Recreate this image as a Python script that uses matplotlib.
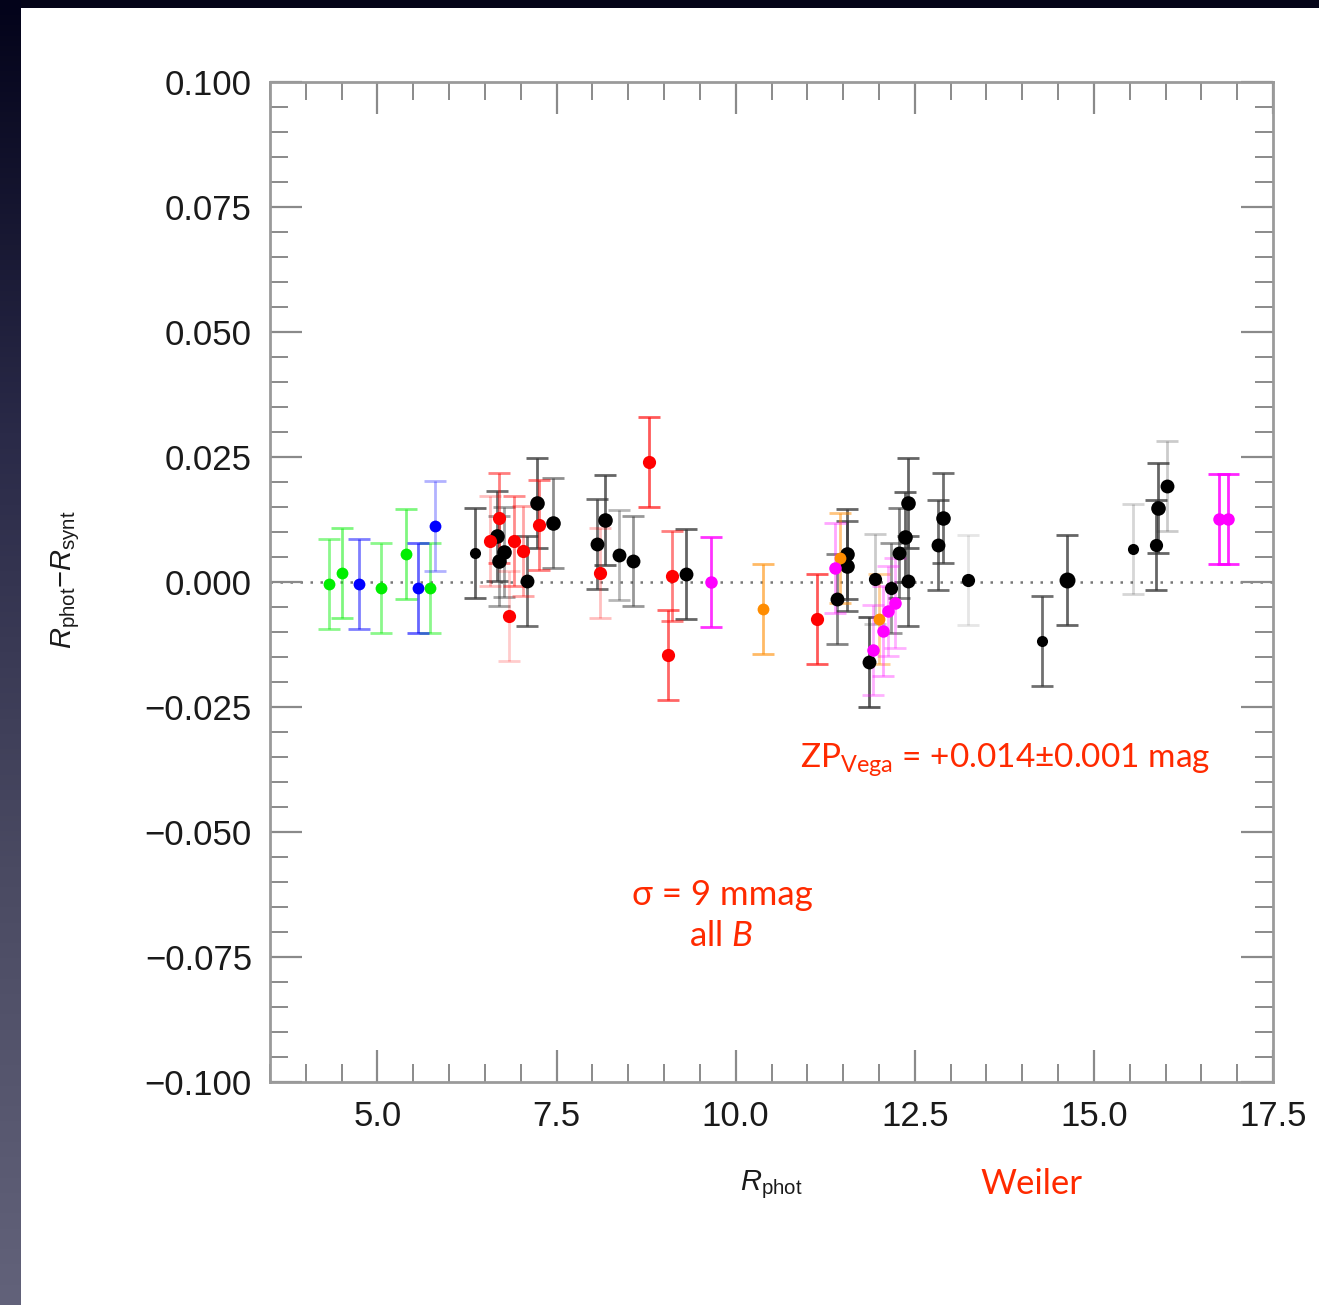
import numpy as np
import matplotlib
matplotlib.use("Agg")
import matplotlib.pyplot as plt
from matplotlib.patches import Rectangle
from matplotlib.colors import LinearSegmentedColormap
from matplotlib.ticker import MultipleLocator, FuncFormatter

plt.rcParams['mathtext.fontset'] = 'custom'
plt.rcParams['mathtext.rm'] = 'Lato'
plt.rcParams['mathtext.it'] = 'Liberation Sans:italic'
plt.rcParams['mathtext.sf'] = 'Liberation Sans'
plt.rcParams['mathtext.bf'] = 'Lato:italic'

# ---------------- data ----------------
green_x = [4.32, 4.51, 5.05, 5.40, 5.73]
green_y = [-0.0004, 0.0018, -0.0011, 0.0056, -0.0011]
green_e = [0.009, 0.009, 0.009, 0.009, 0.009]

blue_x = [4.74, 5.57, 5.81]
blue_y = [-0.0003, -0.0011, 0.0113]
blue_e = [0.009, 0.009, 0.009]

red_x = [6.57, 6.69, 6.84, 6.91, 7.03, 7.25, 8.11, 8.79, 9.11, 9.05, 11.13]
red_y = [0.0083, 0.0129, -0.0067, 0.0083, 0.0063, 0.0114, 0.0018, 0.0241, 0.0013, -0.0146, -0.0073]
red_e = [0.009, 0.009, 0.009, 0.009, 0.009, 0.009, 0.009, 0.009, 0.009, 0.009, 0.009]

orange_x = [10.38, 11.45, 12.00]
orange_y = [-0.0053, 0.0049, -0.0073]
orange_e = [0.009, 0.009, 0.009]

magenta_x = [9.66, 11.38, 11.92, 12.06, 12.12, 12.22, 16.74, 16.87]
magenta_y = [0.0000, 0.0029, -0.0135, -0.0097, -0.0057, -0.0042, 0.0127, 0.0127]
magenta_e = [0.009, 0.009, 0.009, 0.009, 0.009, 0.009, 0.009, 0.009]

black_x = [6.36, 6.67, 6.76, 6.70, 7.09, 7.23, 7.45, 8.07, 8.17, 8.37, 8.56, 9.30,
           11.55, 11.55, 11.41, 11.95, 11.86, 12.17, 12.28, 12.37, 12.40, 12.41,
           12.83, 12.89, 13.24, 14.27, 14.63, 15.54, 15.87, 15.90, 16.02]
black_y = [0.0059, 0.0093, 0.0061, 0.0043, 0.0003, 0.0159, 0.0119, 0.0077, 0.0125, 0.0055, 0.0043, 0.0016,
           0.0056, 0.0033, -0.0034, 0.0006, -0.0159, -0.0011, 0.0058, 0.0091, 0.0159, 0.0003,
           0.0074, 0.0129, 0.0004, -0.0117, 0.0004, 0.0067, 0.0074, 0.0149, 0.0193]
black_e = [0.009] * 31

# ---------------- styles (separate from data) ----------------
green_ealpha = [0.45, 0.5, 0.45, 0.5, 0.45]
blue_ealpha = [0.5, 0.6, 0.3]
red_ealpha = [0.25, 0.5, 0.2, 0.45, 0.35, 0.5, 0.25, 0.65, 0.5, 0.6, 0.65]
orange_ealpha = [0.6, 0.5, 0.4]
magenta_ealpha = [0.8, 0.35, 0.3, 0.35, 0.3, 0.3, 0.85, 0.85]
black_ealpha = [0.75, 0.7, 0.45, 0.45, 0.7, 0.75, 0.55, 0.7, 0.75, 0.35, 0.5, 0.75,
                0.75, 0.7, 0.6, 0.25, 0.8, 0.5, 0.6, 0.75, 0.75, 0.7,
                0.7, 0.7, 0.12, 0.7, 0.75, 0.2, 0.75, 0.75, 0.25]
black_ms = [8, 10.5, 10.5, 10.5, 10, 10.5, 10.5, 10, 10.5, 10, 10, 10,
            10.5, 10.5, 10, 9.5, 10, 9.5, 10, 10.5, 10.5, 10,
            10, 10.5, 9.5, 8, 11.5, 8, 9.5, 10.5, 10]

W, H = 1319, 1305
fig = plt.figure(figsize=(W / 100, H / 100), dpi=100)
fig.patch.set_facecolor('#050518')

# left gradient strip
gax = fig.add_axes([0, 0, 21 / W, 1])
grad = np.linspace(0, 1, 256).reshape(-1, 1)
cm = LinearSegmentedColormap.from_list('g', ['#03031a', '#2a2a48', '#4a4a62', '#62627a'])
gax.imshow(grad, aspect='auto', cmap=cm, extent=[0, 1, 0, 1], origin='upper')
gax.set_axis_off()

# white panel
fig.patches.append(Rectangle((21 / W, 0), 1 - 21 / W, 1 - 8 / H, transform=fig.transFigure,
                             facecolor='white', edgecolor='none', zorder=-5))

ax = fig.add_axes([270 / W, 1 - 1082 / H, (1273 - 270) / W, (1082 - 82) / H])
ax.set_zorder(5)
ax.set_facecolor('none')
ax.set_xlim(3.5, 17.5)
ax.set_ylim(-0.1, 0.1)

ax.axhline(0, color='#777777', ls=(0, (1, 3)), lw=1.8, zorder=1)

def draw(xs, ys, es, color, ealphas, ms, ecolor=None):
    for i, (x, y, e) in enumerate(zip(xs, ys, es)):
        m = ms[i] if isinstance(ms, list) else ms
        ax.errorbar([x], [y], yerr=[e], fmt='none', ecolor=ecolor or color,
                    alpha=ealphas[i], elinewidth=2, capsize=8, capthick=2, zorder=2)
        ax.plot([x], [y], 'o', color=color, ms=m, mec='none', zorder=3)

draw(green_x, green_y, green_e, '#00ee00', green_ealpha, 8.5)
draw(blue_x, blue_y, blue_e, '#0000ff', blue_ealpha, 8.5)
draw(black_x, black_y, black_e, '#000000', black_ealpha, black_ms, ecolor='#333333')
draw(red_x, red_y, red_e, '#ff0000', red_ealpha, 9.5)
draw(orange_x, orange_y, orange_e, '#ff8c00', orange_ealpha, 8.5)
draw(magenta_x, magenta_y, magenta_e, '#ff00ff', magenta_ealpha, 9)

for s in ax.spines.values():
    s.set_color('#9a9a9a')
    s.set_linewidth(2)

ax.set_xticks([5.0, 7.5, 10.0, 12.5, 15.0, 17.5])
ax.xaxis.set_minor_locator(MultipleLocator(0.5))
ax.yaxis.set_major_locator(MultipleLocator(0.025))
ax.yaxis.set_minor_locator(MultipleLocator(0.005))
ax.xaxis.set_major_formatter(FuncFormatter(lambda v, p: f'{v:.1f}'))
ax.yaxis.set_major_formatter(FuncFormatter(lambda v, p: f'{v:.3f}'.replace('-', '\u2212')
                                           if abs(v) > 1e-9 else '0.000'))
ax.tick_params(which='both', direction='in', top=True, right=True, color='#8a8a8a',
               labelcolor='#1a1a1a', labelsize=25, pad=13)
ax.tick_params(which='major', length=23, width=1.6)
ax.tick_params(which='minor', length=13, width=1.4)
for lab in ax.get_xticklabels() + ax.get_yticklabels():
    lab.set_fontfamily('Liberation Sans')

fig.text(771 / W, 1 - 1185 / H, r'$\mathit{R}_{\mathsf{phot}}$', fontsize=21, color='#1a1a1a',
         ha='center', va='center', family='Liberation Sans', zorder=10)
fig.text(66 / W, 1 - 580 / H, r'$\mathit{R}_{\mathsf{phot}}$' + '\u2212' + r'$\mathit{R}_{\mathsf{synt}}$',
         fontsize=21, color='#1a1a1a', ha='center', va='center', rotation=90,
         family='Liberation Sans', zorder=10)

red = '#ff2a00'
fig.text(800 / W, 1 - 768 / H, r'ZP$_{\mathrm{Vega}}$ = +0.014±0.001 mag', fontsize=24, color=red,
         ha='left', va='baseline', family='Lato', zorder=10)
fig.text(722 / W, 1 - 905 / H, 'σ = 9 mmag', fontsize=25, color=red, ha='center', va='baseline',
         family=['Lato', 'DejaVu Sans'], zorder=10)
fig.text(721 / W, 1 - 946 / H, r'all $\mathbf{B}$', fontsize=25, color=red, ha='center', va='baseline',
         family='Lato', zorder=10)
fig.text(1031 / W, 1 - 1194 / H, 'Weiler', fontsize=25, color=red, ha='center', va='baseline',
         family='Lato', zorder=10)

fig.savefig('out.png', dpi=100, facecolor=fig.get_facecolor())
